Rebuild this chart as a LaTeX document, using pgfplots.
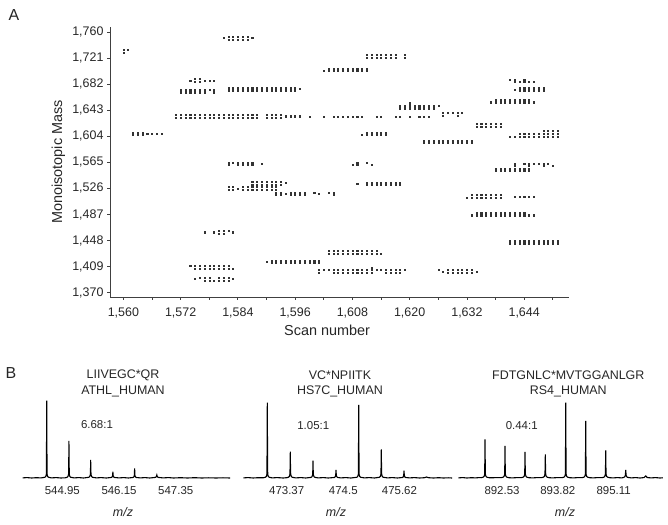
\documentclass[border=0pt]{standalone}
\usepackage{fontspec}
\setmainfont{Liberation Sans}
\usepackage{pgfplots}
\usepackage{pgfplotstable}
\pgfplotsset{compat=1.18}
\pgfplotstableread{
s lo hi
1560 1729 1733
1561 1733 1733
1581 1751 1751
1582 1749 1753
1583 1749 1753
1584 1749 1753
1585 1749 1753
1586 1749 1753
1587 1751 1751
1574 1687.5 1687.5
1575 1685.5 1689.5
1576 1685.5 1689.5
1577 1687.5 1687.5
1578 1687.5 1687.5
1579 1687.5 1687.5
1572 1670 1674
1573 1670 1674
1574 1670 1674
1575 1670 1674
1576 1670 1674
1577 1670 1674
1578 1674 1674
1579 1670 1674
1582 1673 1677
1583 1673 1677
1584 1673 1677
1585 1673 1677
1586 1673 1677
1587 1673 1677
1588 1673 1677
1589 1673 1677
1590 1673 1677
1591 1673 1677
1592 1673 1677
1593 1673 1677
1594 1673 1677
1595 1673 1677
1596 1673 1677
1597 1675 1675
1571 1632 1636
1572 1632 1636
1573 1632 1636
1574 1632 1636
1575 1632 1636
1576 1632 1636
1577 1632 1636
1578 1632 1636
1579 1632 1636
1580 1632 1636
1581 1632 1636
1582 1632 1636
1583 1632 1636
1584 1632 1636
1585 1632 1636
1586 1632 1636
1587 1632 1636
1588 1632 1636
1590 1632 1636
1591 1632 1636
1592 1632 1636
1593 1632 1636
1594 1634 1634
1595 1634 1634
1596 1634 1634
1597 1634 1634
1599 1633 1633
1602 1633 1633
1604 1633 1633
1605 1633 1633
1606 1633 1633
1607 1633 1633
1608 1633 1633
1609 1633 1633
1610 1633 1633
1613 1633 1633
1614 1633 1633
1617 1633 1633
1618 1633 1633
1620 1633 1633
1622 1633 1633
1623 1633 1633
1624 1633 1633
1562 1606 1610
1563 1606 1610
1564 1606 1610
1565 1608 1608
1566 1608 1608
1567 1608 1608
1568 1608 1608
1582 1561 1565
1583 1565 1565
1584 1561 1565
1585 1561 1565
1586 1561 1565
1587 1561 1565
1589 1563 1563
1611 1721.5 1725.5
1612 1721.5 1725.5
1613 1721.5 1725.5
1614 1721.5 1725.5
1615 1721.5 1725.5
1616 1721.5 1725.5
1617 1721.5 1725.5
1619 1721.5 1725.5
1602 1701.5 1701.5
1603 1701.5 1705.5
1604 1701.5 1705.5
1605 1701.5 1705.5
1606 1701.5 1705.5
1607 1701.5 1705.5
1608 1701.5 1705.5
1609 1701.5 1705.5
1610 1701.5 1705.5
1611 1701.5 1705.5
1641 1689 1689
1642 1685 1689
1643 1685 1685
1644 1685 1689
1645 1685 1685
1646 1685 1685
1642 1674 1674
1643 1673 1677
1644 1673 1677
1645 1673 1677
1646 1673 1677
1647 1673 1677
1648 1673 1677
1637 1655 1655
1638 1655 1659
1639 1655 1659
1640 1655 1659
1641 1655 1659
1642 1655 1659
1643 1655 1659
1644 1655 1659
1645 1655 1659
1646 1655 1655
1618 1646 1650
1619 1646 1650
1620 1646 1650
1620 1653.5 1653.5
1621 1646 1650
1622 1646 1650
1623 1646 1650
1624 1646 1650
1625 1646 1650
1626 1650 1650
1627 1635 1639
1628 1639 1639
1629 1639 1639
1630 1635 1639
1631 1639 1639
1634 1619 1623
1635 1619 1623
1636 1619 1623
1637 1619 1623
1638 1619 1623
1639 1619 1623
1610 1606 1606
1611 1606 1610
1612 1606 1610
1613 1606 1610
1614 1606 1610
1615 1606 1610
1623 1594 1598
1624 1594 1598
1625 1594 1598
1626 1594 1598
1627 1594 1598
1628 1594 1598
1629 1594 1598
1630 1594 1598
1631 1594 1598
1632 1594 1598
1633 1594 1598
1641 1604 1604
1642 1604 1604
1643 1604 1608
1644 1604 1608
1645 1604 1608
1646 1604 1608
1647 1604 1608
1648 1604 1608
1649 1604 1608
1650 1604 1608
1651 1604 1608
1648 1612 1612
1649 1612 1612
1650 1612 1612
1651 1612 1612
1608 1561 1561
1609 1561 1565
1611 1565 1565
1612 1561 1561
1638 1552 1556
1639 1552 1556
1640 1552 1556
1641 1552 1556
1642 1552 1556
1643 1552 1556
1644 1552 1556
1645 1552 1556
1642 1559.5 1563.5
1644 1563.5 1563.5
1645 1559.5 1563.5
1646 1563.5 1563.5
1647 1563.5 1563.5
1648 1559.5 1563.5
1649 1563.5 1563.5
1650 1559.5 1559.5
1582 1524 1528
1583 1524 1528
1584 1526 1526
1585 1524 1528
1586 1524 1528
1587 1524 1528
1588 1524 1528
1589 1524 1528
1590 1524 1528
1591 1524 1528
1592 1524 1528
1587 1532 1536
1588 1532 1536
1589 1532 1536
1590 1532 1536
1591 1532 1536
1592 1532 1536
1593 1532 1536
1594 1534 1534
1592 1516 1520
1593 1516 1520
1594 1518 1518
1595 1516 1520
1596 1516 1520
1597 1516 1520
1598 1516 1520
1600 1520 1520
1601 1518 1518
1603 1520 1520
1604 1516 1520
1577 1460.5 1460.5
1579 1460.5 1460.5
1580 1458.5 1462.5
1581 1458.5 1462.5
1582 1462.5 1462.5
1583 1460.5 1460.5
1574 1410 1410
1575 1406 1410
1576 1406 1410
1577 1406 1410
1578 1406 1410
1579 1406 1410
1580 1406 1410
1581 1406 1410
1582 1406 1410
1583 1406 1406
1575 1390.5 1390.5
1576 1392.5 1392.5
1577 1388.5 1392.5
1578 1388.5 1392.5
1579 1388.5 1388.5
1580 1388.5 1392.5
1581 1388.5 1392.5
1582 1388.5 1392.5
1583 1390.5 1390.5
1590 1416 1416
1591 1414.5 1418.5
1592 1414.5 1418.5
1593 1414.5 1418.5
1594 1414.5 1418.5
1595 1414.5 1418.5
1596 1414.5 1418.5
1597 1414.5 1418.5
1598 1414.5 1418.5
1599 1414.5 1418.5
1600 1414.5 1418.5
1601 1414.5 1418.5
1609 1533 1533
1611 1531 1535
1612 1531 1535
1613 1531 1535
1614 1531 1535
1615 1531 1535
1616 1531 1535
1617 1531 1535
1618 1531 1535
1632 1512 1512
1633 1512 1516
1634 1512 1516
1635 1512 1516
1636 1512 1516
1637 1512 1516
1638 1512 1516
1639 1512 1516
1642 1514 1514
1643 1514 1514
1644 1514 1514
1645 1514 1514
1646 1514 1514
1633 1486 1486
1634 1486 1490
1635 1486 1490
1636 1486 1490
1637 1486 1490
1638 1486 1490
1639 1486 1490
1640 1486 1490
1641 1486 1490
1642 1486 1490
1643 1486 1490
1644 1486 1490
1645 1486 1486
1646 1486 1486
1641 1443 1447
1642 1443 1447
1643 1443 1447
1644 1443 1447
1645 1443 1447
1646 1443 1447
1647 1443 1447
1648 1443 1447
1649 1443 1447
1650 1443 1447
1651 1443 1447
1603 1429 1433
1604 1429 1433
1605 1429 1433
1606 1429 1433
1607 1429 1433
1608 1429 1433
1609 1429 1433
1610 1429 1433
1611 1429 1433
1612 1429 1433
1613 1429 1433
1614 1429 1429
1601 1400 1404
1602 1404 1404
1603 1404 1404
1604 1400 1404
1605 1400 1404
1606 1400 1404
1607 1400 1404
1608 1400 1404
1609 1400 1404
1610 1400 1404
1611 1400 1404
1612 1400 1404
1612 1407.5 1407.5
1613 1404 1404
1614 1404 1404
1615 1400 1404
1616 1400 1404
1617 1400 1404
1618 1400 1404
1619 1404 1404
1626 1405 1405
1627 1401 1401
1628 1400 1404
1629 1400 1404
1630 1400 1404
1631 1400 1404
1632 1400 1404
1633 1400 1404
1634 1401 1401
}\dots
\begin{document}
\begin{tikzpicture}[x=1bp,y=1bp]
\useasboundingbox (0,0) rectangle (668,525);
\begin{axis}[at={(110bp,228bp)}, anchor=south west, scale only axis,
  width=459bp, height=270bp,
  xmin=1557.2, xmax=1653.4, ymin=1363.6, ymax=1767.5,
  axis lines=left, axis line style={-, black!75, line width=0.9bp},
  tick style={black!75, line width=0.8bp}, tick align=outside,
  major tick length=3bp, minor tick length=3bp,
  xtick={1560,1572,...,1644}, minor xtick={1566,1578,...,1650},
  ytick={1370,1409,...,1760}, scaled ticks=false,
  /pgf/number format/assume math mode=true, /pgf/number format/1000 sep={,},
  tick label style={font=\fontsize{12.5}{14}\selectfont, text=black!85},
  xticklabel style={anchor=base, yshift=-16.5bp},
  xlabel={Scan number}, ylabel={Monoisotopic Mass},
  label style={font=\fontsize{14.5}{16}\selectfont, text=black!85},
  xlabel style={at={(axis description cs:0.473,-0.1444)}, anchor=base},
  ylabel style={at={(axis description cs:-0.1126,0.5)}, anchor=center},
  clip=false]
\addplot[only marks, mark=square*, mark size=0.55bp, black!80] table[x=s, y=lo] {\dots};
\addplot[only marks, mark=square*, mark size=0.55bp, black!80] table[x=s, y=hi] {\dots};
\end{axis}
% Panel B1
\begin{axis}[at={(20bp,43.7bp)}, anchor=south west, scale only axis,
  width=212bp, height=83bp, xmin=544.055, xmax=548.54, ymin=-3, ymax=80,
  axis y line=none, axis x line=bottom, x axis line style={draw=none},
  xtick={544.95,546.15,547.35}, xticklabels={544.95,546.15,547.35},
  major tick length=0pt, xtick style={draw=none},
  xticklabel style={font=\fontsize{11.5}{13}\selectfont, text=black!85, anchor=base, yshift=-13bp},
  clip=false]
\addplot[black, line width=1.1bp] coordinates {(544.11,0.4)(544.2,0.7)(544.3,0.3)(544.4,0.6)(544.5,0.4)(544.58,1.0)(544.6,1.8)(544.612,4)(544.617,39)(544.62,77.6)(544.623,39)(544.628,4)(544.64,1.8)(544.66,1.0)(544.72,0.4)(544.82,0.7)(544.92,0.3)(545.01,0.5)(545.05,1.0)(545.07,1.8)(545.082,4)(545.087,19)(545.09,37.3)(545.093,19)(545.098,4)(545.11,1.8)(545.13,1.0)(545.2,0.4)(545.3,0.7)(545.4,0.3)(545.51,1.0)(545.53,1.8)(545.542,3.5)(545.547,9)(545.55,18.3)(545.553,9)(545.558,3.5)(545.57,1.8)(545.59,1.0)(545.67,0.4)(545.77,0.7)(545.88,0.3)(545.985,0.8)(546.005,1.4)(546.014,2.8)(546.02,6.6)(546.026,2.8)(546.035,1.4)(546.055,0.8)(546.15,0.4)(546.25,0.7)(546.35,0.3)(546.445,0.8)(546.465,1.5)(546.474,3)(546.48,10)(546.486,3)(546.495,1.5)(546.515,0.8)(546.6,0.4)(546.7,0.7)(546.8,0.3)(546.92,0.9)(546.94,1.6)(546.95,3.3)(546.96,1.6)(546.98,0.9)(547.08,0.4)(547.2,0.7)(547.3,0.3)(547.45,0.6)(547.6,0.3)(547.75,0.6)(547.9,0.3)(548.05,0.5)(548.2,0.3)(548.35,0.5)(548.5,0.3)};
\end{axis}
% Panel B2
\begin{axis}[at={(240bp,43.7bp)}, anchor=south west, scale only axis,
  width=212bp, height=83bp, xmin=472.438, xmax=476.669, ymin=-3, ymax=80,
  axis y line=none, axis x line=bottom, x axis line style={draw=none},
  xtick={473.37,474.5,475.62}, xticklabels={473.37,474.5,475.62},
  major tick length=0pt, xtick style={draw=none},
  xticklabel style={font=\fontsize{11.5}{13}\selectfont, text=black!85, anchor=base, yshift=-13bp},
  clip=false]
\addplot[black, line width=1.1bp] coordinates {(472.504,0.4)(472.6,0.7)(472.7,0.3)(472.8,0.6)(472.9,0.5)(472.943,1.0)(472.963,1.8)(472.975,4)(472.98,38)(472.983,75.6)(472.986,38)(472.991,4)(473.003,1.8)(473.023,1.0)(473.08,0.4)(473.18,0.7)(473.3,0.3)(473.37,0.6)(473.402,1.0)(473.422,1.8)(473.434,4)(473.439,13)(473.442,26.6)(473.445,13)(473.45,4)(473.462,1.8)(473.482,1.0)(473.55,0.4)(473.65,0.7)(473.75,0.3)(473.855,0.9)(473.875,1.6)(473.887,3.5)(473.892,9)(473.895,17.6)(473.898,9)(473.903,3.5)(473.915,1.6)(473.935,0.9)(474.0,0.4)(474.1,0.7)(474.2,0.3)(474.32,0.8)(474.338,1.5)(474.348,3)(474.354,8.3)(474.36,3)(474.37,1.5)(474.39,0.8)(474.45,0.4)(474.55,0.7)(474.65,0.3)(474.767,1.0)(474.787,1.8)(474.799,4)(474.804,37)(474.807,73.3)(474.81,37)(474.815,4)(474.827,1.8)(474.847,1.0)(474.92,0.4)(475.02,0.7)(475.12,0.3)(475.218,1.0)(475.238,1.8)(475.25,4)(475.255,15)(475.258,29)(475.261,15)(475.266,4)(475.278,1.8)(475.298,1.0)(475.38,0.4)(475.48,0.7)(475.58,0.3)(475.68,0.8)(475.696,1.5)(475.705,3)(475.711,7.6)(475.717,3)(475.726,1.5)(475.742,0.8)(475.82,0.4)(475.92,0.7)(476.02,0.3)(476.12,0.6)(476.16,1.3)(476.2,0.6)(476.3,0.3)(476.4,0.6)(476.5,0.3)(476.6,0.5)(476.67,0.3)};
\end{axis}
% Panel B3
\begin{axis}[at={(455bp,43.7bp)}, anchor=south west, scale only axis,
  width=210bp, height=83bp, xmin=891.443, xmax=896.298, ymin=-3, ymax=80,
  axis y line=none, axis x line=bottom, x axis line style={draw=none},
  xtick={892.53,893.82,895.11}, xticklabels={892.53,893.82,895.11},
  major tick length=0pt, xtick style={draw=none},
  xticklabel style={font=\fontsize{11.5}{13}\selectfont, text=black!85, anchor=base, yshift=-13bp},
  clip=false]
\addplot[black, line width=1.1bp] coordinates {(891.52,0.4)(891.62,0.7)(891.72,0.3)(891.82,0.6)(891.92,0.4)(892.0,0.7)(892.047,0.6)(892.092,1.1)(892.115,1.9)(892.128,4)(892.1335,20)(892.137,39)(892.1405,20)(892.146,4)(892.159,1.9)(892.182,1.1)(892.227,0.6)(892.3,0.5)(892.4,0.7)(892.509,0.6)(892.554,1.1)(892.577,1.9)(892.59,4)(892.5955,16)(892.599,32.3)(892.6025,16)(892.608,4)(892.621,1.9)(892.644,1.1)(892.689,0.6)(892.77,0.4)(892.88,0.7)(892.972,0.6)(893.017,1.1)(893.04,1.9)(893.053,4)(893.0585,13)(893.062,26.3)(893.0655,13)(893.071,4)(893.084,1.9)(893.107,1.1)(893.152,0.6)(893.24,0.4)(893.34,0.7)(893.441,0.6)(893.486,1.1)(893.509,1.9)(893.522,4)(893.5275,12)(893.531,24)(893.5345,12)(893.54,4)(893.553,1.9)(893.576,1.1)(893.621,0.6)(893.7,0.4)(893.81,0.7)(893.913,0.6)(893.958,1.1)(893.981,1.9)(893.994,4)(893.9995,38)(894.003,75.6)(894.0065,38)(894.012,4)(894.025,1.9)(894.048,1.1)(894.093,0.6)(894.18,0.4)(894.28,0.7)(894.375,0.6)(894.42,1.1)(894.443,1.9)(894.456,4)(894.4615,29)(894.465,57.3)(894.4685,29)(894.474,4)(894.487,1.9)(894.51,1.1)(894.555,0.6)(894.64,0.4)(894.74,0.7)(894.837,0.6)(894.882,1.1)(894.905,1.9)(894.918,4)(894.9235,14)(894.927,28)(894.9305,14)(894.936,4)(894.949,1.9)(894.972,1.1)(895.017,0.6)(895.1,0.4)(895.2,0.7)(895.3,0.4)(895.345,0.9)(895.368,1.6)(895.381,3)(895.39,8.3)(895.399,3)(895.412,1.6)(895.435,0.9)(895.52,0.4)(895.62,0.7)(895.72,0.3)(895.81,0.7)(895.852,2.3)(895.89,0.7)(895.98,0.4)(896.08,0.7)(896.18,0.3)(896.25,0.5)};
\end{axis}
% Text
\begin{scope}[every node/.style={anchor=base, inner sep=0pt, text=black!85}]
\node[font=\fontsize{16}{18}\selectfont] at (14,504) {A};
\node[font=\fontsize{16}{18}\selectfont] at (11,146.7) {B};
\node[font=\fontsize{12.5}{14}\selectfont] at (123,146.7) {LIIVEGC*QR};
\node[font=\fontsize{12.5}{14}\selectfont] at (123,130.7) {ATHL\_HUMAN};
\node[font=\fontsize{11.5}{13}\selectfont] at (97,96.7) {6.68:1};
\node[font=\fontsize{12.5}{14}\selectfont\itshape] at (123,8.5) {m/z};
\node[font=\fontsize{12.5}{14}\selectfont] at (340,145.7) {VC*NPIITK};
\node[font=\fontsize{12.5}{14}\selectfont] at (340,130) {HS7C\_HUMAN};
\node[font=\fontsize{11.5}{13}\selectfont] at (313.3,95) {1.05:1};
\node[font=\fontsize{12.5}{14}\selectfont\itshape] at (336,8.5) {m/z};
\node[font=\fontsize{12.5}{14}\selectfont] at (568.3,145.7) {FDTGNLC*MVTGGANLGR};
\node[font=\fontsize{12.5}{14}\selectfont] at (568.3,130) {RS4\_HUMAN};
\node[font=\fontsize{11.5}{13}\selectfont] at (521.7,95) {0.44:1};
\node[font=\fontsize{12.5}{14}\selectfont\itshape] at (565,8.5) {m/z};
\end{scope}
\end{tikzpicture}
\end{document}
